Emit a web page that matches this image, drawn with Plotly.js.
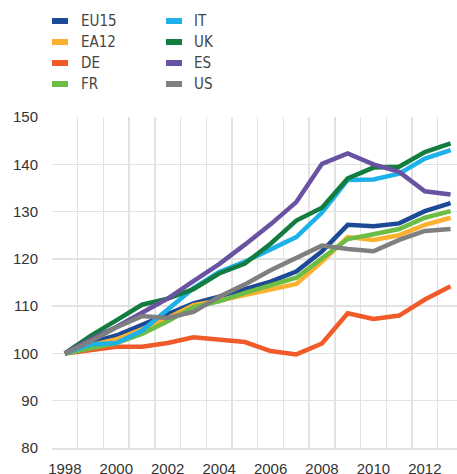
<!DOCTYPE html>
<html>
<head>
<meta charset="utf-8">
<script src="https://cdn.plot.ly/plotly-3.0.1.min.js"></script>
<style>html,body{margin:0;padding:0;background:#fff;}#chart{width:457px;height:474px;}</style>
</head>
<body>
<div id="chart"></div>
<script>
var years = [1998,1999,2000,2001,2002,2003,2004,2005,2006,2007,2008,2009,2010,2011,2012,2013];
var EU15 = [100,102.3,103.8,106.0,108.2,110.6,112.0,113.6,115.2,117.3,121.6,127.2,126.9,127.5,130.1,131.8];
var EA12 = [100,101.7,103.0,105.1,107.5,110.2,111.2,112.4,113.4,114.7,119.4,124.6,124.0,125.0,127.2,128.7];
var DE   = [100,100.8,101.4,101.4,102.2,103.4,102.9,102.4,100.5,99.8,102.1,108.5,107.3,108.0,111.4,114.2];
var FR   = [100,101.2,102.2,104.1,106.8,109.8,111.0,112.8,114.5,116.0,120.1,124.2,125.2,126.3,128.7,130.1];
var IT   = [100,101.9,102.2,104.8,109.3,113.8,117.2,119.4,122.0,124.6,129.8,136.7,136.8,138.0,141.2,143.0];
var UK   = [100,103.7,107.0,110.3,111.6,113.6,116.9,119.0,123.2,128.1,130.8,137.0,139.3,139.5,142.6,144.4];
var ES   = [100,103.0,105.6,108.5,111.6,115.3,118.9,123.0,127.3,132.0,140.1,142.3,140.0,138.4,134.3,133.6];
var US   = [100,102.6,105.5,107.9,107.5,108.8,112.0,114.6,117.6,120.2,122.8,122.1,121.6,124.0,125.9,126.3];

var seriesNames = ["EU15","EA12","DE","FR","IT","UK","ES","US"];
var seriesValues = [EU15,EA12,DE,FR,IT,UK,ES,US];
var seriesColors = ["#1d4a96","#fbb030","#f15a29","#6cbd45","#1cb1e8","#127d3f","#6a52a2","#7f7f80"];

var xTickVals = [1998,2000,2002,2004,2006,2008,2010,2012];
var xGridVals = [1997.5,1998.5,1999.5,2000.5,2001.5,2002.5,2003.5,2004.5,2005.5,2006.5,2007.5,2008.5,2009.5,2010.5,2011.5,2012.5];
var yTickVals = [80,90,100,110,120,130,140,150];

var traces = seriesNames.map(function(n,i){
  return {x: years, y: seriesValues[i], type:'scatter', mode:'lines', name:n,
    line:{color:seriesColors[i], width:4.5}, showlegend:false};
});

// manual legend (2 columns x 4 rows), in paper coordinates
var L = 52, W = 405, B = 448, H = 331;
function px2x(p){return (p-L)/W;}
function py2y(p){return (B-p)/H;}
var shapes = [], annotations = [];
var colSwatch = [52,166], colText = [79,192], rowY = [21,42,63,84];
seriesNames.forEach(function(n,i){
  var c = Math.floor(i/4), r = i%4;
  shapes.push({type:'line', xref:'paper', yref:'paper',
    x0:px2x(colSwatch[c]), x1:px2x(colSwatch[c]+16), y0:py2y(rowY[r]), y1:py2y(rowY[r]),
    line:{color:seriesColors[i], width:6}});
  annotations.push({xref:'paper', yref:'paper', x:px2x(colText[c]), y:py2y(rowY[r]),
    xanchor:'left', yanchor:'middle', showarrow:false, text:n,
    font:{family:'"Liberation Sans Narrow","DejaVu Sans Condensed","Liberation Sans",Arial,sans-serif', size:15, color:'#444'}});
});

var layout = {
  width:457, height:474,
  margin:{l:52, r:0, t:117, b:26, pad:0},
  paper_bgcolor:'#fff', plot_bgcolor:'#fff',
  font:{family:'"Liberation Sans",Arial,sans-serif', size:15, color:'#333'},
  xaxis:{range:[1997.5,2013.25], tickmode:'array', tickvals:xTickVals, ticktext:xTickVals.map(String),
    showgrid:false, zeroline:false, ticks:'outside', ticklen:6, tickcolor:'rgba(0,0,0,0)',
    showline:true, linecolor:'#e2e2e2', linewidth:1.5,
    minor:{tickmode:'array', tickvals:xGridVals, showgrid:true, gridcolor:'#e2e2e2', gridwidth:1.5, ticks:''},
    fixedrange:true},
  yaxis:{range:[80,150], tickmode:'array', tickvals:yTickVals, ticktext:yTickVals.map(String),
    showgrid:true, gridcolor:'#e2e2e2', gridwidth:1.5, zeroline:false,
    ticks:'outside', ticklen:10, tickcolor:'rgba(0,0,0,0)', showline:false, fixedrange:true},
  shapes:shapes, annotations:annotations, showlegend:false
};
Plotly.newPlot('chart', traces, layout, {displayModeBar:false, staticPlot:true});
</script>
</body>
</html>
